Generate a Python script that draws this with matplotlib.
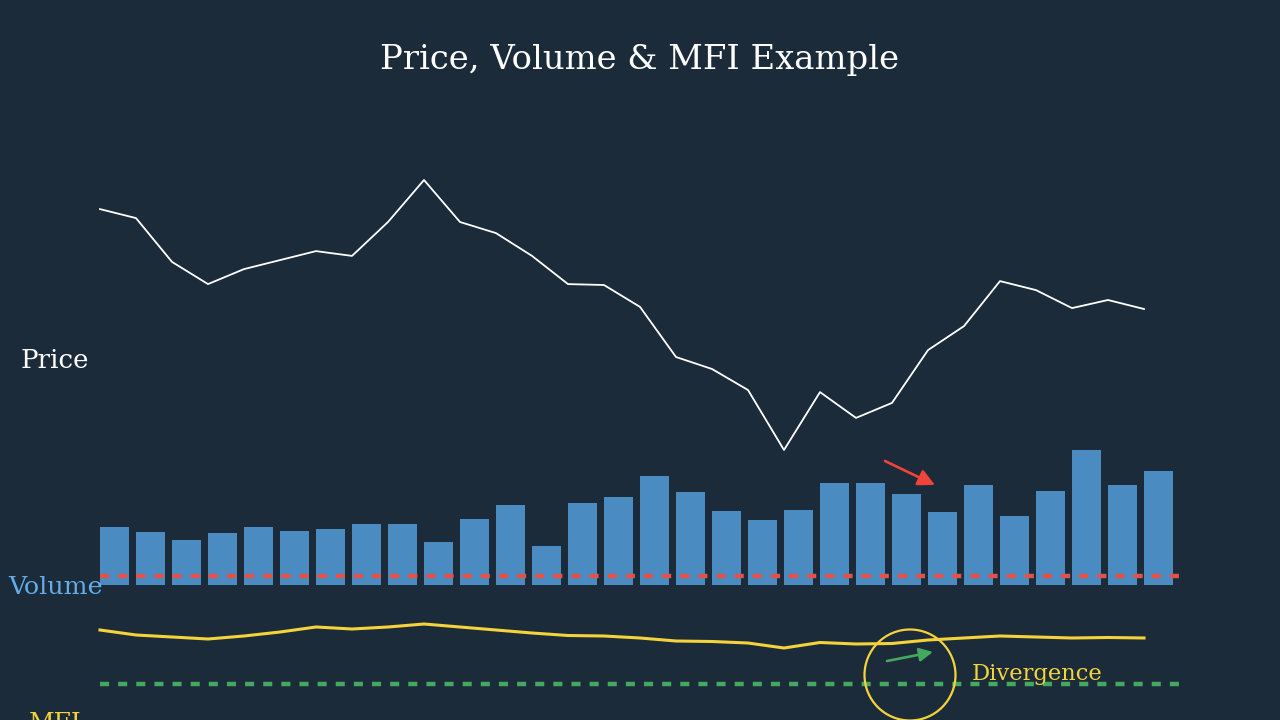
"""Price, volume and MFI panels stacked on one dark canvas."""
import matplotlib; matplotlib.use("Agg")
import matplotlib.pyplot as plt
from matplotlib.patches import Circle
import numpy as np

BG, WHITE, BLUE, LABEL_BLUE = "#1b2b3a", "#ffffff", "#4a8cc2", "#63ade9"
RED, GREEN, YELLOW = "#e2524a", "#45a85f", "#f4d43a"

price = [160.3, 157.3, 142.7, 135.3, 140.3, 143.3, 146.3, 144.7, 156, 170,
         156, 152.3, 144.7, 135.3, 135, 127.7, 111, 107, 100, 80,
         99.3, 90.7, 95.7, 113.3, 121.3, 136.3, 133.3, 127.3, 130, 127]
volume = [58, 53, 45, 52, 58, 54, 56, 61, 61, 43,
          66, 80, 39, 82, 88, 109, 93, 74, 65, 75,
          102, 102, 91, 73, 100, 69, 94, 135, 100, 114]
mfi = [80, 75, 73, 71, 74, 78, 83, 81, 83, 86,
       83, 80, 77, 74.5, 74, 72, 69, 68.5, 67, 62,
       67.5, 66, 66.5, 70, 72, 74, 73, 72, 72.5, 72]
volume_level = 9
mfi_level = 26

days = np.arange(len(price))
XLIM = (-100 / 36, 1180 / 36)

plt.rcParams.update({"font.family": "DejaVu Serif"})
fig = plt.figure(figsize=(12.8, 7.2), dpi=100, facecolor=BG)

def layer(ylim):
    # every panel fills the canvas, only the y scale differs
    ax = fig.add_axes([0, 0, 1, 1])
    ax.set_xlim(*XLIM); ax.set_ylim(*ylim)
    ax.axis("off")
    return ax

ax_v = layer((-135, 585))
ax_v.bar(days, volume, width=29 / 36, align="edge", color=BLUE)
ax_v.plot([0, 30], [volume_level] * 2, color=RED, lw=3.2, ls=(0, (2.04, 2.04)))

ax_p = layer((-10, 230))
ax_p.plot(days, price, color=WHITE, lw=1.3)

ax_m = layer((-10, 710))
ax_m.plot(days, mfi, color=YELLOW, lw=2.2)
ax_m.plot([0, 30], [mfi_level] * 2, color=GREEN, lw=3.2, ls=(0, (2.04, 2.04)))

# annotations are placed in canvas pixels
top = fig.add_axes([0, 0, 1, 1])
top.set_xlim(0, 1280); top.set_ylim(720, 0); top.axis("off")
top.text(640, 60, "Price, Volume & MFI Example", color=WHITE, fontsize=24.4, ha="center", va="center")
top.text(55, 361, "Price", color=WHITE, fontsize=18.8, ha="center", va="center")
top.text(55.5, 587, "Volume", color=LABEL_BLUE, fontsize=18.3, ha="center", va="center")
top.text(55, 724, "MFI", color=YELLOW, fontsize=18, ha="center", va="center", clip_on=True)
top.text(1037, 674, "Divergence", color=YELLOW, fontsize=16.3, ha="center", va="center")
top.add_patch(Circle((910, 675), 45.5, fill=False, ec=YELLOW, lw=1.6))
top.annotate("", xy=(935, 485), xytext=(885, 461),
             arrowprops=dict(arrowstyle="-|>", color="#f0443a", lw=1.9, mutation_scale=25, shrinkA=0, shrinkB=0))
top.annotate("", xy=(933, 652), xytext=(887, 661),
             arrowprops=dict(arrowstyle="-|>", color=GREEN, lw=1.9, mutation_scale=20, shrinkA=0, shrinkB=0))

fig.savefig("out.png", dpi=100, facecolor=BG)
